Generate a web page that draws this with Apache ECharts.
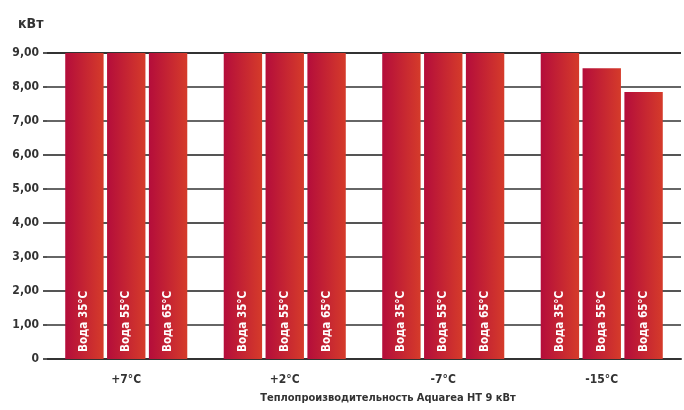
<!DOCTYPE html>
<html><head><meta charset="utf-8">
<script src="https://cdn.jsdelivr.net/npm/echarts@6/dist/echarts.min.js"></script>
<style>html,body{margin:0;padding:0;background:#fff}#c{width:684px;height:410px}</style>
</head><body><div id="c"></div>
<script>
const categories = ['+7°C', '+2°C', '-7°C', '-15°C'];
const seriesNames = ['Вода 35°C', 'Вода 55°C', 'Вода 65°C'];
const water35 = [9.0, 9.0, 9.0, 9.0];
const water55 = [9.0, 9.0, 9.0, 8.55];
const water65 = [9.0, 9.0, 9.0, 7.85];
const yTicks = [0, 1, 2, 3, 4, 5, 6, 7, 8, 9];
const unitLabel = 'кВт';
const axisTitle = 'Теплопроизводительность Aquarea HT 9 кВт';

const FONT = '"Liberation Sans Narrow", "DejaVu Sans Condensed", "Roboto", sans-serif';
const grad = new echarts.graphic.LinearGradient(0, 0, 1, 0, [
  {offset: 0, color: '#B40D3B'}, {offset: 1, color: '#D53B2A'}
]);
const chart = echarts.init(document.getElementById('c'), null, {renderer: 'canvas'});
const mk = (name, data) => ({
  name, type: 'bar', data,
  barGap: '9%', barCategoryGap: '23%',
  itemStyle: {color: grad},
  label: {
    show: true, position: 'insideBottom', rotate: 90, align: 'left', verticalAlign: 'middle',
    distance: 7, formatter: name, color: '#fff', fontFamily: FONT, fontWeight: 'bold', fontSize: 11.5
  }
});
chart.setOption({
  animation: false,
  title: [
    {text: unitLabel, left: 13, top: 12, textStyle: {fontFamily: FONT, fontWeight: 'bold', fontSize: 14, color: '#333'}},
    {text: axisTitle, left: 383, top: 388, textAlign: 'center', textStyle: {fontFamily: FONT, fontWeight: 'bold', fontSize: 11, color: '#333'}}
  ],
  grid: {left: 47, right: 3, top: 53, bottom: 51, containLabel: false},
  xAxis: {
    type: 'category', data: categories,
    axisLine: {lineStyle: {color: '#333', width: 2}},
    axisTick: {show: false},
    axisLabel: {margin: 15, color: '#333', fontFamily: FONT, fontWeight: 'bold', fontSize: 12}
  },
  yAxis: {
    type: 'value', min: 0, max: 9, interval: 1,
    axisLine: {show: false},
    axisTick: {show: true, length: 4, lineStyle: {color: '#555', width: 2}},
    splitLine: {lineStyle: {color: ['#333','#666','#555','#666','#555','#666','#555','#666','#666','#333'], width: 2}},
    axisLabel: {
      margin: 8, color: '#333', fontFamily: FONT, fontWeight: 'bold', fontSize: 12,
      formatter: v => v === 0 ? '0' : v.toFixed(2).replace('.', ',')
    }
  },
  series: [mk(seriesNames[0], water35), mk(seriesNames[1], water55), mk(seriesNames[2], water65)]
});
</script></body></html>
